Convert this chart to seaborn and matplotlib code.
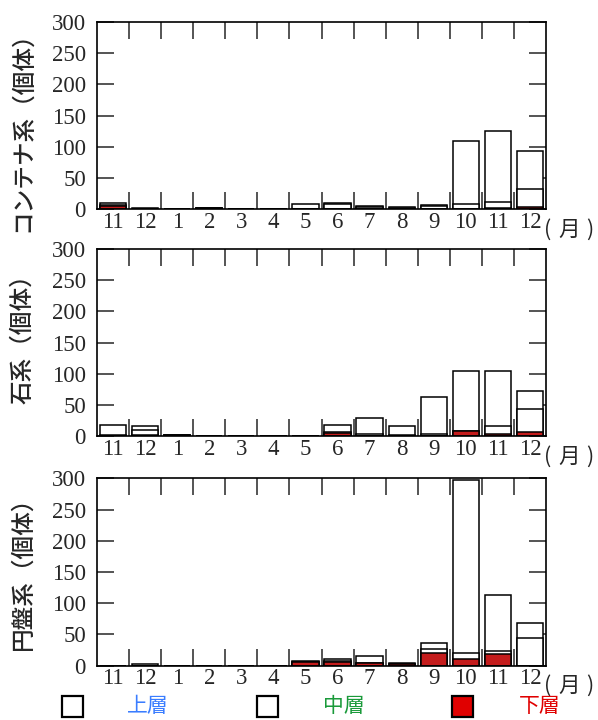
import numpy as np
import pandas as pd
import matplotlib
matplotlib.use("Agg")
import matplotlib.pyplot as plt
import seaborn as sns
from matplotlib.patches import Rectangle

# month slots (Nov of previous year to Dec)
months = ["11", "12", "1", "2", "3", "4", "5", "6", "7", "8", "9", "10", "11", "12"]

panel_labels = ["コンテナ系（個体）", "石系（個体）", "円盤系（個体）"]

# counts per layer: 下層 (lower), 中層 (middle), 上層 (upper)
container_lower = [6, 1, 0, 2, 0, 1, 0, 0, 1, 1, 1, 1, 3, 4]
container_mid = [1, 0, 0, 0, 0, 0, 0, 8, 3, 2, 4, 7, 9, 28]
container_upper = [4, 1, 0, 0, 0, 0, 8, 2, 2, 1, 2, 102, 113, 61]

stone_lower = [1, 2, 2, 0, 0, 0, 0, 6, 1, 1, 1, 8, 4, 7]
stone_mid = [1, 8, 0, 0, 0, 0, 0, 1, 3, 1, 3, 1, 12, 37]
stone_upper = [16, 6, 0, 0, 0, 0, 0, 11, 25, 15, 59, 96, 88, 29]

disc_lower = [0, 0, 0, 0, 0, 0, 6, 6, 4, 2, 20, 11, 19, 0]
disc_mid = [0, 0, 0, 0, 0, 0, 0, 2, 1, 1, 7, 10, 4, 45]
disc_upper = [0, 2, 0, 0, 0, 0, 2, 3, 10, 2, 9, 277, 90, 24]

panels = [
    (container_lower, container_mid, container_upper),
    (stone_lower, stone_mid, stone_upper),
    (disc_lower, disc_mid, disc_upper),
]

RED = "#e00000"
serif = ["Liberation Serif", "DejaVu Serif"]
cjk = ["Noto Sans CJK JP", "DejaVu Sans"]

sns.set_style("white")
plt.rcParams["font.family"] = cjk

fig = plt.figure(figsize=(5.98, 7.2), dpi=100)

left, width = 97 / 598, 449 / 598
tops = [22, 249, 478.3]
h = 187.4
label_y = [126, 333, 567]

for i, (lower, mid, upper) in enumerate(panels):
    top = tops[i]
    ax = fig.add_axes([left, 1 - (top + h) / 720, width, h / 720])
    df = pd.DataFrame({"slot": range(len(months)), "lower": lower, "mid": mid, "upper": upper})
    df["lm"] = df["lower"] + df["mid"]
    df["total"] = df["lm"] + df["upper"]

    kw = dict(x="slot", ax=ax, errorbar=None, width=0.82, edgecolor="black", linewidth=1.1)
    sns.barplot(data=df, y="total", color="white", **kw)
    sns.barplot(data=df, y="lm", color="white", **kw)
    sns.barplot(data=df, y="lower", color=RED, **kw)

    ax.set_xlim(-0.5, len(months) - 0.5)
    ax.set_ylim(0, 300)
    ax.set_xlabel("")
    ax.set_ylabel("")

    ax.set_xticks(np.arange(0.5, len(months) - 1, 1))
    ax.set_xticklabels([])
    ax.set_xticks(np.arange(len(months)), minor=True)
    ax.set_xticklabels(months, minor=True, fontfamily=serif, fontsize=16.5)
    ax.tick_params(axis="x", which="major", direction="in", length=12, width=1.1,
                   top=True, bottom=True)
    ax.tick_params(axis="x", which="minor", length=0, pad=2)

    ax.set_yticks(np.arange(0, 301, 50))
    ax.set_yticklabels([str(v) for v in range(0, 301, 50)], fontfamily=serif, fontsize=16.5)
    ax.tick_params(axis="y", direction="in", length=12, width=1.1, left=True, right=True, pad=8)

    for s in ax.spines.values():
        s.set_linewidth(1.2)
        s.set_color("black")

    # y label
    fig.text(23 / 598, 1 - label_y[i] / 720, panel_labels[i],
             rotation=90, ha="center", va="center", fontsize=17, fontfamily=cjk,
             fontweight="medium")
    # month unit, drawn piecewise to keep the wide bracket spacing
    uy = 1 - (top + h + 20) / 720
    for ch, ux in (("(", 548), ("月", 569), (")", 590)):
        fig.text(ux / 598, uy, ch, ha="center", va="center", fontsize=15.5, fontfamily=cjk)

# legend along the bottom
legend_items = [
    (62, "white", "上層", "#3a7dff", 148),
    (257, "white", "中層", "#1a9a3a", 344),
    (452, RED, "下層", RED, 540),
]
for x0, fc, name, tc, tx in legend_items:
    fig.patches.append(Rectangle((x0 / 598, 1 - 717 / 720), 21 / 598, 21 / 720,
                                 transform=fig.transFigure, facecolor=fc,
                                 edgecolor="black", linewidth=1.6))
    fig.text(tx / 598, 1 - 706 / 720, name, color=tc, ha="center", va="center",
             fontsize=15, fontfamily=cjk)

fig.savefig("out.png", dpi=100)
